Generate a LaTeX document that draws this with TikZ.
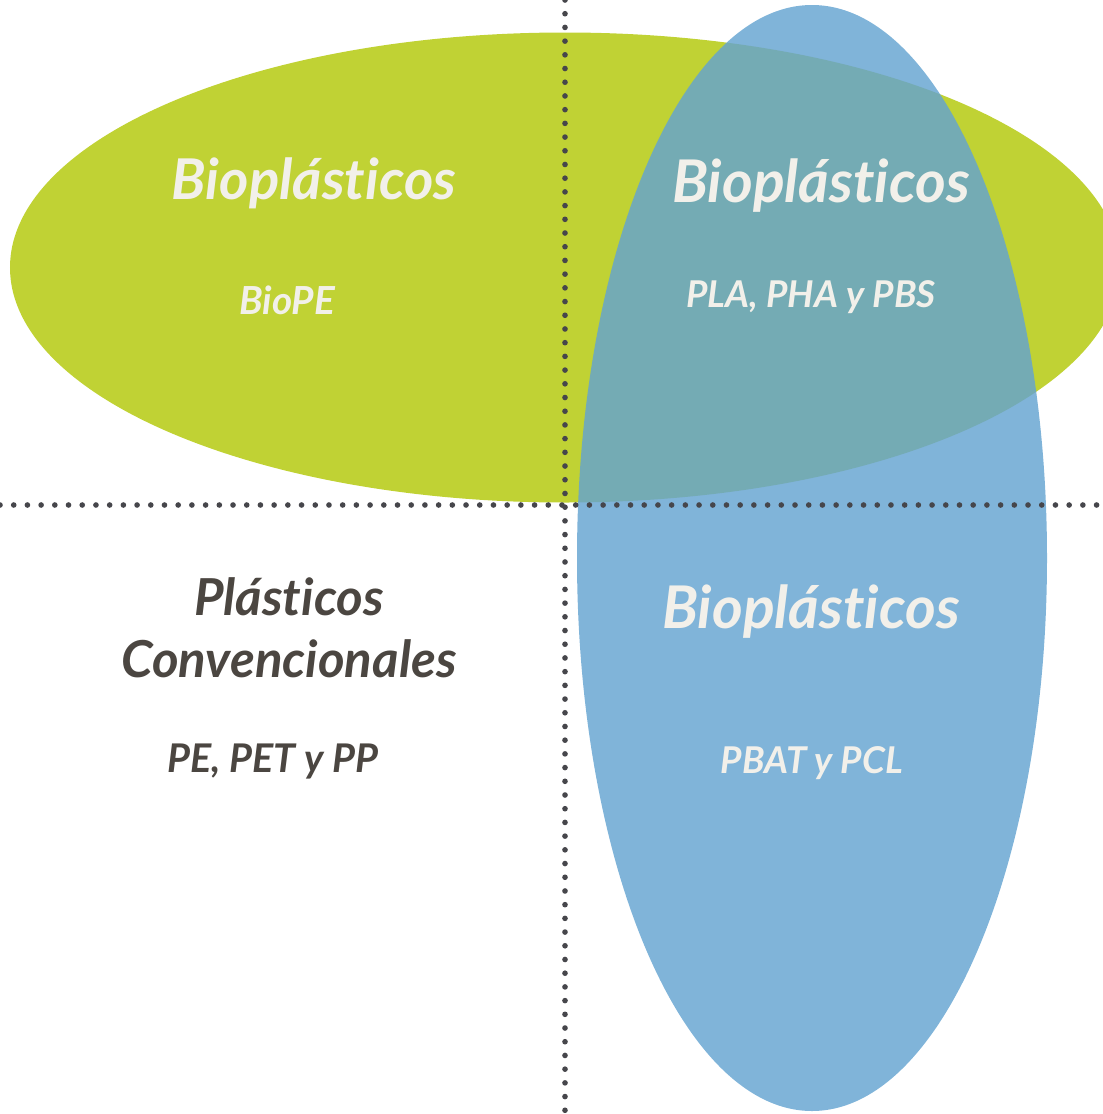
\documentclass[tikz,border=0pt]{standalone}
\usepackage{fontspec}
\setmainfont{Lato}[Ligatures={NoCommon,NoDiscretionary,NoContextual}]
\usepackage{tikz}

\definecolor{biogreen}{RGB}{192,210,52}
\definecolor{bioblue}{RGB}{100,163,209}
\definecolor{lighttext}{RGB}{242,240,234}
\definecolor{darktext}{RGB}{75,70,65}
\definecolor{dotgray}{RGB}{70,70,75}

\tikzset{
    title/.style={font=\fontsize{33.5}{38}\selectfont\bfseries\itshape, text=lighttext, inner sep=0pt},
    sublabel/.style={font=\fontsize{21}{25}\selectfont\bfseries\itshape, text=lighttext, inner sep=0pt},
    dotline/.style={dotgray, line width=3.2pt, line cap=round, dash pattern=on 0pt off 7.8pt}
}

\begin{document}
\begin{tikzpicture}
            \useasboundingbox (0, 0) rectangle (22.06, -22.28);

            \fill[biogreen] (11.3, -5.35) ellipse[x radius=11.1, y radius=4.7];
            \fill[bioblue, opacity=0.82] (16.24, -11.16) ellipse[x radius=4.7, y radius=11.06];

            \draw[dotline] (11.3, 0) -- (11.3, -22.28);
            \draw[dotline] (0, -10.1) -- (22.06, -10.1);

            \node[title, font=\fontsize{32}{36}\selectfont\bfseries\itshape] (bioA) at (6.28, -3.66) {Bioplásticos};
            \node[sublabel, font=\fontsize{22}{26}\selectfont\bfseries\itshape] (biope) at (5.74, -6.0) {BioPE};
            \node[title] (bioB) at (16.42, -3.72) {Bioplásticos};
            \node[sublabel] (pla) at (16.22, -5.94) {PLA, PHA y PBS};
            \node[title] (bioC) at (16.22, -12.24) {Bioplásticos};
            \node[sublabel] (pbat) at (16.24, -15.26) {PBAT y PCL};

            \node[title, text=darktext, font=\fontsize{29}{34}\selectfont\bfseries\itshape, align=center] (conv) at (5.78, -12.56) {Plásticos\\[1pt]Convencionales};
            \node[sublabel, text=darktext, font=\fontsize{22.5}{26}\selectfont\bfseries\itshape] (pe) at (5.46, -15.24) {PE, PET y PP};
        \end{tikzpicture}
\end{document}
